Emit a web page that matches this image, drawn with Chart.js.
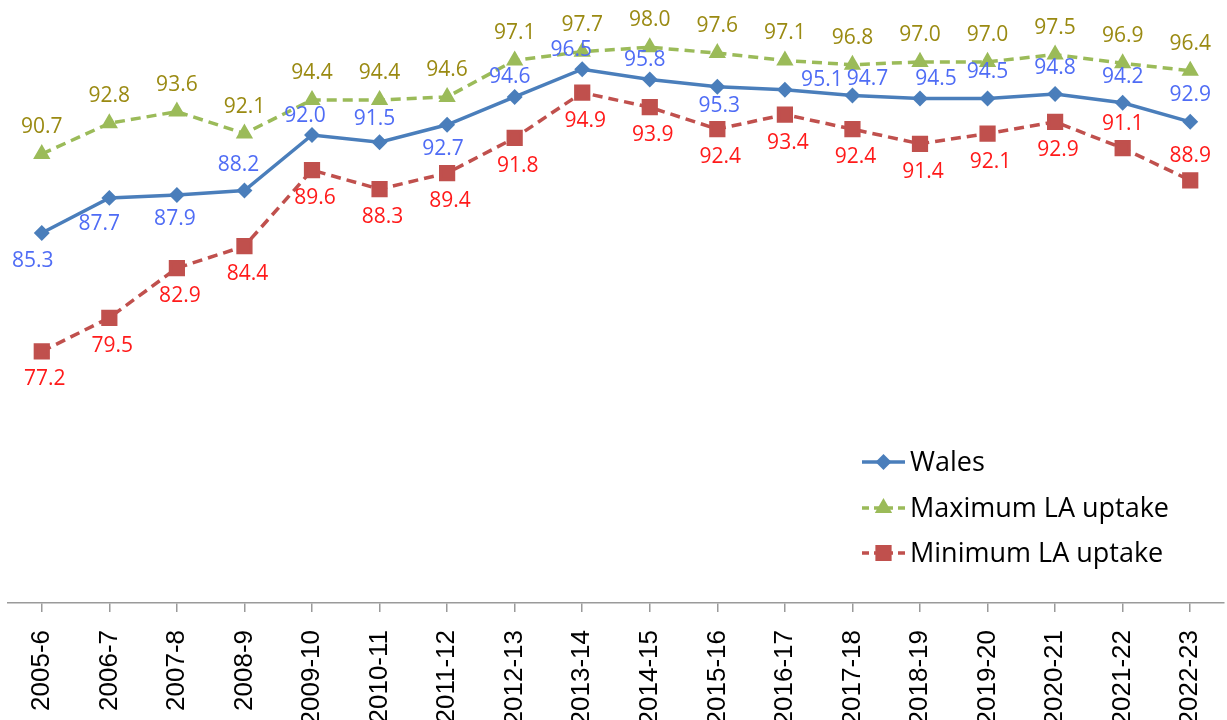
<!DOCTYPE html>
<html>
<head>
<meta charset="utf-8">
<script src="https://cdn.jsdelivr.net/npm/chart.js@4/dist/chart.umd.min.js"></script>
<style>
  html, body { margin: 0; padding: 0; background: #fff; overflow: hidden; }
</style>
</head>
<body>
<canvas id="uptakeChart" width="1227" height="720"></canvas>
<script>
// Dados
const years = ['2005-6', '2006-7', '2007-8', '2008-9', '2009-10', '2010-11', '2011-12', '2012-13', '2013-14',
               '2014-15', '2015-16', '2016-17', '2017-18', '2018-19', '2019-20', '2020-21', '2021-22', '2022-23'];
const walesUptake = [85.3, 87.7, 87.9, 88.2, 92.0, 91.5, 92.7, 94.6, 96.5, 95.8, 95.3, 95.1, 94.7, 94.5, 94.5, 94.8, 94.2, 92.9];
const maxUptake   = [90.7, 92.8, 93.6, 92.1, 94.4, 94.4, 94.6, 97.1, 97.7, 98.0, 97.6, 97.1, 96.8, 97.0, 97.0, 97.5, 96.9, 96.4];
const minUptake   = [77.2, 79.5, 82.9, 84.4, 89.6, 88.3, 89.4, 91.8, 94.9, 93.9, 92.4, 93.4, 92.4, 91.4, 92.1, 92.9, 91.1, 88.9];

// Onde cada rótulo fica em relação ao ponto (dx, dy em px)
const walesLabelPos = [[-9, 28], [-10, 26], [-2, 24], [-6, -26], [-7, -19], [-5, -23], [-4, 24], [-5, -20], [-11, -19],
                       [-5, -19], [2, 19], [37, -10], [15, -16], [16, -19], [0, -26], [0, -26], [0, -26], [0, -27]];
const maxLabelPos = maxUptake.map(() => [0, -27]);
const minLabelPos = minUptake.map((v, i) => i >= 16 ? [0, -24] : [3, 28]);

const blue = '#4A7EBB';
const green = '#9BBB59';
const red = '#C0504D';

const labelStyle = [
  { color: '#4F6CF5', pos: walesLabelPos },
  { color: '#9A8A12', pos: maxLabelPos },
  { color: '#FF1A1A', pos: minLabelPos }
];

// Rótulos de valor em cada ponto
const valueLabels = {
  id: 'valueLabels',
  afterDatasetsDraw(chart) {
    const ctx = chart.ctx;
    ctx.save();
    ctx.font = '21px "Open Sans"';
    ctx.textAlign = 'center';
    ctx.textBaseline = 'middle';
    chart.data.datasets.forEach((ds, i) => {
      const meta = chart.getDatasetMeta(i);
      ctx.fillStyle = labelStyle[i].color;
      meta.data.forEach((pt, j) => {
        const off = labelStyle[i].pos[j];
        ctx.fillText(ds.data[j].toFixed(1), pt.x + off[0], pt.y + off[1]);
      });
    });
    ctx.restore();
  }
};

// Legenda dentro da área do gráfico, canto inferior direito
const insideLegend = {
  id: 'insideLegend',
  afterDraw(chart) {
    const ctx = chart.ctx;
    const x0 = 862, x1 = 905, rowY = [462, 508, 553];
    ctx.save();
    chart.data.datasets.forEach((ds, i) => {
      const y = rowY[i];
      ctx.strokeStyle = ds.borderColor;
      ctx.lineWidth = 3.5;
      ctx.setLineDash(ds.borderDash ? [7, 5] : []);
      ctx.beginPath();
      ctx.moveTo(x0, y);
      ctx.lineTo(x1, y);
      ctx.stroke();
      ctx.setLineDash([]);
      Chart.helpers.drawPoint(ctx, {
        pointStyle: ds.pointStyle,
        radius: ds.pointRadius,
        borderWidth: 1
      }, (x0 + x1) / 2, y);
      ctx.fillStyle = ds.pointBackgroundColor;
      ctx.fill();
      ctx.fillStyle = '#000';
      ctx.font = '27px "Open Sans"';
      ctx.textAlign = 'left';
      ctx.textBaseline = 'middle';
      ctx.fillText(ds.label, 910, y + 1);
    });
    ctx.restore();
  }
};

new Chart(document.getElementById('uptakeChart'), {
  type: 'line',
  data: {
    labels: years,
    datasets: [
      {
        label: 'Wales',
        data: walesUptake,
        borderColor: blue,
        backgroundColor: blue,
        pointBackgroundColor: blue,
        pointBorderColor: blue,
        borderWidth: 3.5,
        pointStyle: 'rectRot',
        pointRadius: 5.5
      },
      {
        label: 'Maximum LA uptake',
        data: maxUptake,
        borderColor: green,
        backgroundColor: green,
        pointBackgroundColor: green,
        pointBorderColor: green,
        borderWidth: 3.5,
        borderDash: [10, 6],
        pointStyle: 'triangle',
        pointRadius: 6.5
      },
      {
        label: 'Minimum LA uptake',
        data: minUptake,
        borderColor: red,
        backgroundColor: red,
        pointBackgroundColor: red,
        pointBorderColor: red,
        borderWidth: 3.5,
        borderDash: [10, 6],
        pointStyle: 'rect',
        pointRadius: 9
      }
    ]
  },
  options: {
    responsive: false,
    animation: false,
    layout: { autoPadding: false, padding: { left: 8, right: 3, top: 18, bottom: 0 } },
    plugins: {
      legend: { display: false },
      tooltip: { enabled: false }
    },
    scales: {
      x: {
        offset: true,
        grid: { drawOnChartArea: false, drawTicks: true, tickLength: 9, color: '#9a9a9a', lineWidth: 1.5 },
        border: { color: '#9a9a9a', width: 1.5 },
        ticks: {
          color: '#000',
          font: { family: '"Liberation Sans", Arial', size: 26 },
          minRotation: 90,
          maxRotation: 90,
          padding: 18,
          autoSkip: false
        },
        afterFit(scale) {
          scale.height = 117;
          scale.paddingLeft = 0;
          scale.paddingRight = 0;
        }
      },
      y: {
        display: false,
        min: 60,
        max: 100
      }
    }
  },
  plugins: [valueLabels, insideLegend]
});
</script>
</body>
</html>
